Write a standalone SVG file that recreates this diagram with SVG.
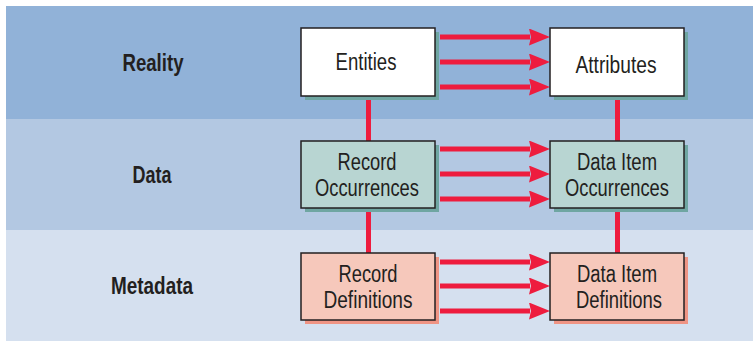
<svg xmlns="http://www.w3.org/2000/svg" width="753" height="341" viewBox="0 0 753 341">
<defs>
<style>
.lbl{font-family:"Liberation Sans",Arial,sans-serif;font-weight:bold;font-size:23px;fill:#231f20;text-anchor:middle}
.t{font-family:"Liberation Sans",Arial,sans-serif;font-size:23.5px;fill:#231f20;text-anchor:middle}
.box{stroke:#231f20;stroke-width:1.5}
.conn{stroke:#ee1c3e;stroke-width:5;fill:none}
.arr{stroke:#ee1c3e;stroke-width:5;fill:none;marker-end:url(#ah)}
</style>
<marker id="ah" markerUnits="userSpaceOnUse" markerWidth="21" markerHeight="17" refX="1" refY="8.5" orient="auto" viewBox="0 0 21 17">
<path d="M0,0 L21,8.5 L0,17 L2,8.5 Z" fill="#ee1c3e"/>
</marker>
</defs>
<rect x="0" y="0" width="753" height="341" fill="#ffffff"/>
<rect x="6" y="6" width="747" height="113" fill="#91b2d8"/>
<rect x="6" y="119" width="747" height="111" fill="#b3c8e2"/>
<rect x="6" y="230" width="747" height="111" fill="#d5e0ef"/>
<text class="lbl" x="153" y="71" textLength="61" lengthAdjust="spacingAndGlyphs">Reality</text>
<text class="lbl" x="152" y="183" textLength="39" lengthAdjust="spacingAndGlyphs">Data</text>
<text class="lbl" x="152" y="294" textLength="82" lengthAdjust="spacingAndGlyphs">Metadata</text>
<g id="connectors">
<line class="conn" x1="368.5" y1="96" x2="368.5" y2="141"/>
<line class="conn" x1="617.5" y1="96" x2="617.5" y2="141"/>
<line class="conn" x1="368.5" y1="208" x2="368.5" y2="253"/>
<line class="conn" x1="617.5" y1="208" x2="617.5" y2="253"/>
<line class="arr" x1="440" y1="37" x2="530" y2="37"/>
<line class="arr" x1="440" y1="62" x2="530" y2="62"/>
<line class="arr" x1="440" y1="87" x2="530" y2="87"/>
<line class="arr" x1="440" y1="149" x2="530" y2="149"/>
<line class="arr" x1="440" y1="174" x2="530" y2="174"/>
<line class="arr" x1="440" y1="199" x2="530" y2="199"/>
<line class="arr" x1="440" y1="262" x2="530" y2="262"/>
<line class="arr" x1="440" y1="286" x2="530" y2="286"/>
<line class="arr" x1="440" y1="311" x2="530" y2="311"/>
</g>
<g id="entities">
<rect x="305" y="32" width="134" height="68" fill="#6fa6a2"/>
<rect class="box" x="301" y="28" width="134" height="68" fill="#ffffff"/>
<text class="t" x="366" y="70" textLength="61" lengthAdjust="spacingAndGlyphs">Entities</text>
</g>
<g id="attributes">
<rect x="554" y="32" width="134" height="68" fill="#6fa6a2"/>
<rect class="box" x="550" y="28" width="134" height="68" fill="#ffffff"/>
<text class="t" x="616" y="72.5" textLength="81" lengthAdjust="spacingAndGlyphs">Attributes</text>
</g>
<g id="record-occurrences">
<rect x="305" y="145" width="134" height="67" fill="#6fa6a2"/>
<rect class="box" x="301" y="141" width="134" height="67" fill="#b8d5d2"/>
<text class="t" x="367" y="170" textLength="59" lengthAdjust="spacingAndGlyphs">Record</text>
<text class="t" x="367" y="196" textLength="104" lengthAdjust="spacingAndGlyphs">Occurrences</text>
</g>
<g id="data-item-occurrences">
<rect x="554" y="145" width="134" height="67" fill="#6fa6a2"/>
<rect class="box" x="550" y="141" width="134" height="67" fill="#b8d5d2"/>
<text class="t" x="617" y="170" textLength="80" lengthAdjust="spacingAndGlyphs">Data Item</text>
<text class="t" x="617" y="196" textLength="104" lengthAdjust="spacingAndGlyphs">Occurrences</text>
</g>
<g id="record-definitions">
<rect x="305" y="257" width="134" height="67" fill="#ef9484"/>
<rect class="box" x="301" y="253" width="134" height="67" fill="#f6c8bb"/>
<text class="t" x="368" y="282" textLength="59" lengthAdjust="spacingAndGlyphs">Record</text>
<text class="t" x="368" y="308" textLength="89" lengthAdjust="spacingAndGlyphs">Definitions</text>
</g>
<g id="data-item-definitions">
<rect x="554" y="257" width="134" height="67" fill="#ef9484"/>
<rect class="box" x="550" y="253" width="134" height="67" fill="#f6c8bb"/>
<text class="t" x="617" y="282" textLength="80" lengthAdjust="spacingAndGlyphs">Data Item</text>
<text class="t" x="619" y="308" textLength="86" lengthAdjust="spacingAndGlyphs">Definitions</text>
</g>
</svg>
